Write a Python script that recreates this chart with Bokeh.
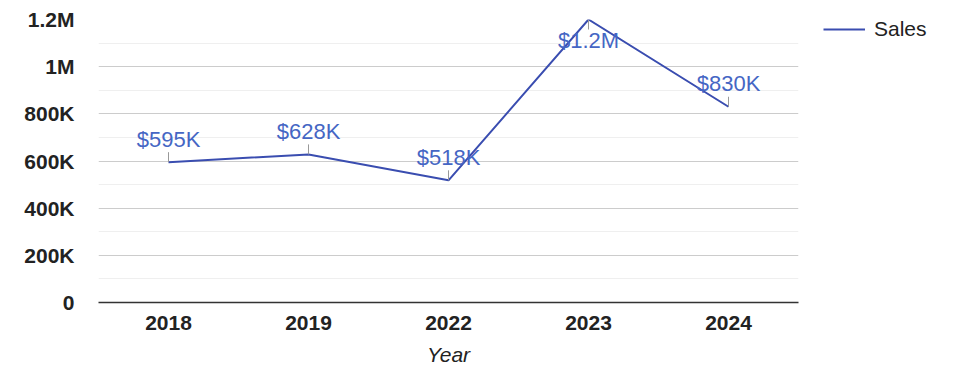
import numpy as np
from bokeh.plotting import figure
from bokeh.models import ColumnDataSource, FixedTicker, Legend, LegendItem, Range1d, FactorRange
from bokeh.core.properties import value
from bokeh.embed import file_html
from bokeh.resources import INLINE

years = ["2018", "2019", "2022", "2023", "2024"]
sales = [595000, 628000, 518000, 1200000, 830000]
sales_labels = ["$595K", "$628K", "$518K", "$1.2M", "$830K"]
y_ticks = [0, 200000, 400000, 600000, 800000, 1000000, 1200000]
y_tick_labels = ["0", "200K", "400K", "600K", "800K", "1M", "1.2M"]
y_minor = [100000, 300000, 500000, 700000, 900000, 1100000]

LINE = "#3a4db0"
LABEL = "#4566c4"
FONT = "Liberation Sans"

p = figure(x_range=FactorRange(*years), y_range=Range1d(0, 1200000),
           frame_width=700, frame_height=283, output_backend="svg", toolbar_location=None,
           min_border_left=98, min_border_right=0, min_border_top=19, min_border_bottom=72)
p.outline_line_color = None
p.background_fill_color = "white"

src = ColumnDataSource(dict(x=years, y=sales))
r = p.line("x", "y", source=src, line_color=LINE, line_width=2)

# label stems and labels
is_top = np.array(sales) >= max(sales)
stem_len = 1200000 * 10 / 283.0
y1 = np.where(is_top, np.array(sales) - stem_len, np.array(sales) + stem_len)
p.segment(x0=years, y0=sales, x1=years, y1=list(y1), line_color="#999999", line_width=1)
offs = list(np.where(is_top, 21, -23))
lsrc = ColumnDataSource(dict(x=years, y=sales, t=sales_labels, off=offs))
p.text("x", "y", text="t", source=lsrc, y_offset="off", text_align="center",
       text_baseline="middle", text_color=LABEL, text_font=value(FONT), text_font_size="22px")

# axes
p.yaxis.ticker = FixedTicker(ticks=y_ticks, minor_ticks=y_minor)
p.yaxis.major_label_overrides = {t: l for t, l in zip(y_ticks, y_tick_labels)}
p.yaxis.axis_line_color = None
p.yaxis.major_tick_line_color = None
p.yaxis.minor_tick_line_color = None
p.yaxis.major_label_text_font = FONT
p.yaxis.major_label_text_font_style = "bold"
p.yaxis.major_label_text_font_size = "21px"
p.yaxis.major_label_text_color = "#222222"
p.yaxis.major_label_standoff = 18

p.xaxis.axis_line_color = "#333333"
p.xaxis.axis_line_width = 1.5
p.xaxis.major_tick_line_color = None
p.xaxis.minor_tick_line_color = None
p.xaxis.major_label_text_font = FONT
p.xaxis.major_label_text_font_style = "bold"
p.xaxis.major_label_text_font_size = "21px"
p.xaxis.major_label_text_color = "#222222"
p.xaxis.major_label_standoff = 7
p.xaxis.axis_label = "Year"
p.xaxis.axis_label_text_font = FONT
p.xaxis.axis_label_text_font_style = "italic"
p.xaxis.axis_label_text_font_size = "21px"
p.xaxis.axis_label_text_color = "#222222"
p.xaxis.axis_label_standoff = 10

p.xgrid.grid_line_color = None
p.ygrid.grid_line_color = "#cccccc"
p.ygrid.minor_grid_line_color = "#efefef"

legend = Legend(items=[LegendItem(label="Sales", renderers=[r])], location=(25, 261),
                glyph_width=42, glyph_height=20, label_standoff=9, padding=0, margin=0,
                border_line_color=None, background_fill_alpha=0,
                label_text_font=FONT, label_text_font_size="21px", label_text_color="#222222")
p.add_layout(legend, "right")

open("out.html", "w").write(file_html(p, INLINE))
